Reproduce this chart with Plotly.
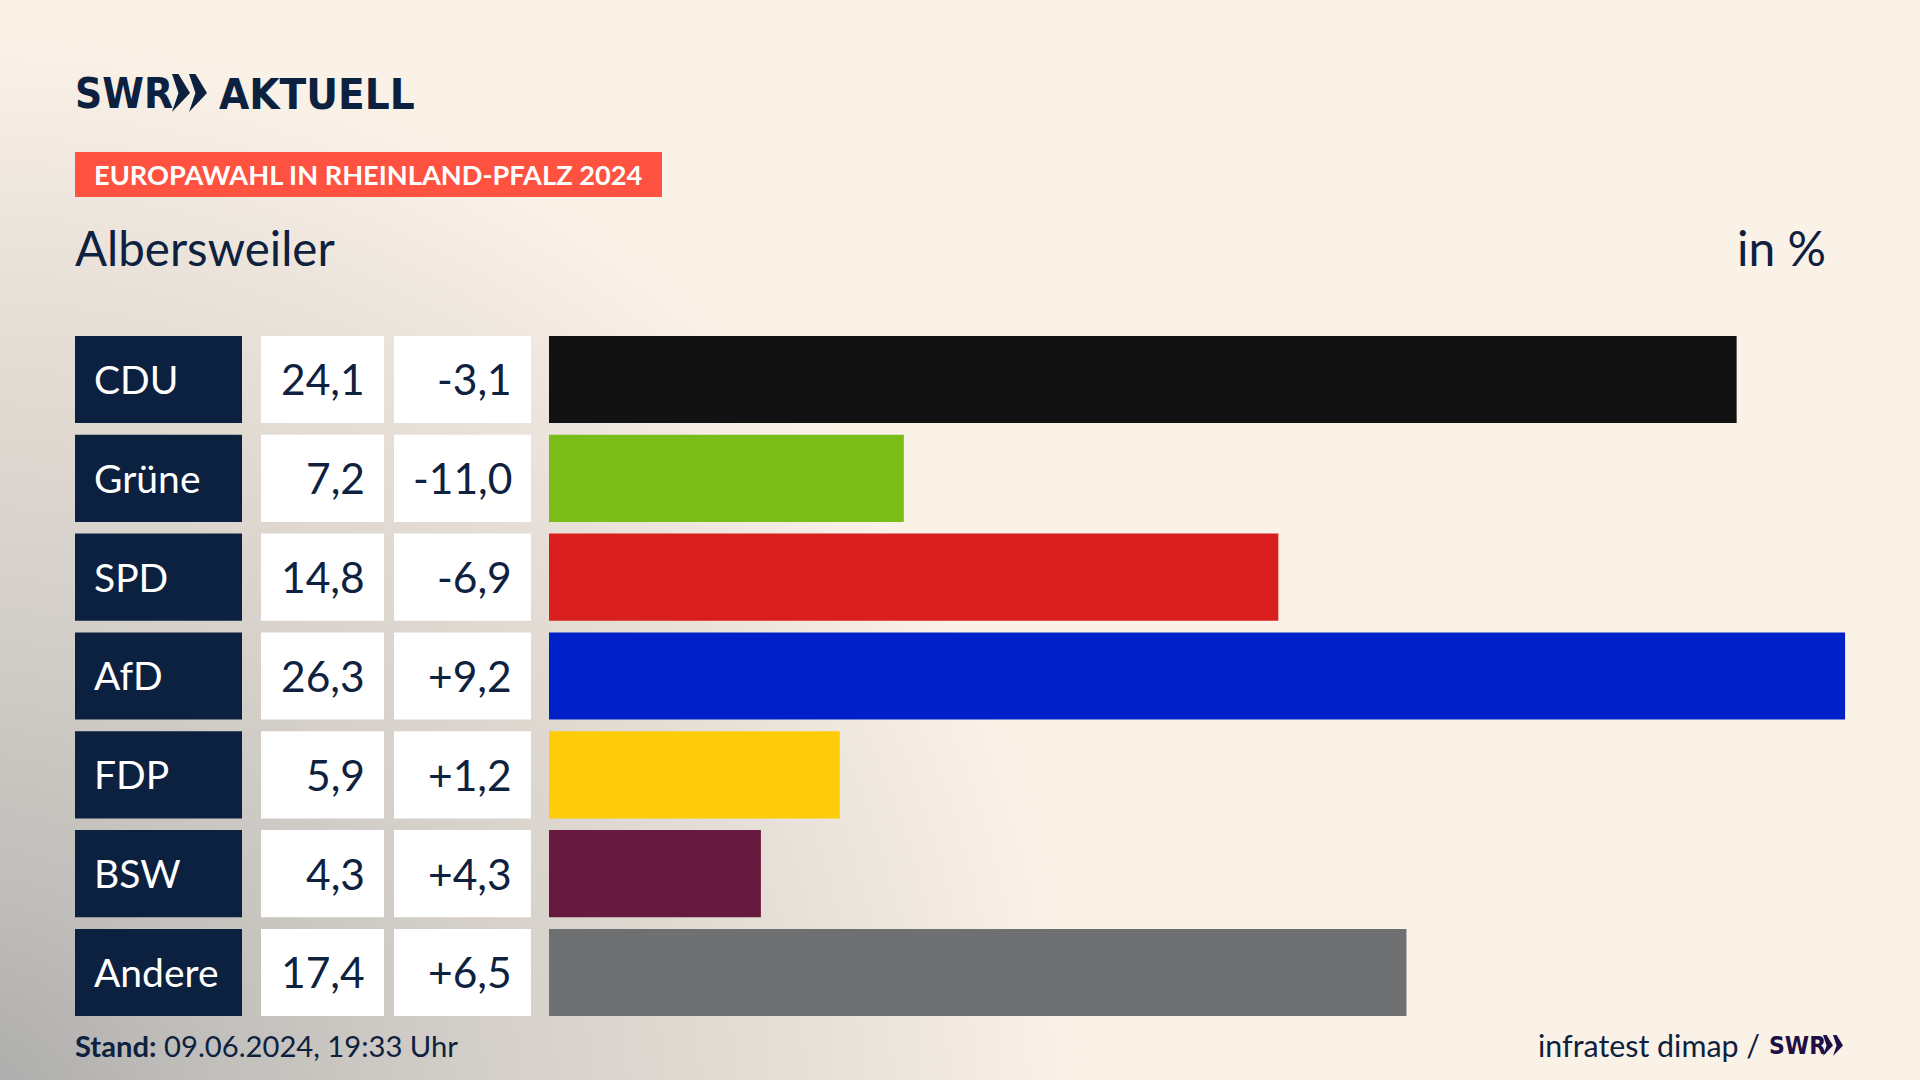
import base64
import plotly.graph_objects as go

parties = ["CDU", "Grüne", "SPD", "AfD", "FDP", "BSW", "Andere"]
shares = [24.1, 7.2, 14.8, 26.3, 5.9, 4.3, 17.4]
changes = [-3.1, -11.0, -6.9, 9.2, 1.2, 4.3, 6.5]
colors = ["#121212", "#7ABD19", "#D91F1E", "#0021C7", "#FFCC0A", "#661A3D", "#6F7072"]

W, H = 1920, 1080
NAVY = "#0C203F"
TXT = "#0E213F"
FONT = "Lato"
LOGO = "DejaVu Sans Condensed"
BAR_X0 = 549
PX_PER_UNIT = 49.28
ROW_PITCH = 98.83
ROW0 = 379.5
HALF = 43.6 / ROW_PITCH


def fx(px):
    return px / W


def fy(px):
    return 1 - px / H


svg = f'''<svg xmlns="http://www.w3.org/2000/svg" width="{W}" height="{H}" viewBox="0 0 {W} {H}">
<defs><radialGradient id="g" gradientUnits="userSpaceOnUse" cx="0" cy="0" r="1"
 gradientTransform="translate(-40 1120) scale(1270 1230)">
<stop offset="0" stop-color="#A9A9A9"/>
<stop offset="0.18" stop-color="#BFBDBA"/>
<stop offset="0.42" stop-color="#D4CFC9"/>
<stop offset="0.66" stop-color="#E6DFD7"/>
<stop offset="0.88" stop-color="#FAF1E7"/>
<stop offset="1" stop-color="#FAF1E7"/>
</radialGradient></defs>
<rect width="{W}" height="{H}" fill="url(#g)"/></svg>'''
bg_uri = "data:image/svg+xml;base64," + base64.b64encode(svg.encode()).decode()

fig = go.Figure(
    go.Bar(
        x=shares,
        y=parties,
        orientation="h",
        marker=dict(color=colors, line=dict(width=0)),
        width=2 * HALF,
        hoverinfo="skip",
    )
)

shapes = []
annotations = []


def text(x, y, s, size, color=TXT, anchor="left", family=FONT):
    annotations.append(
        dict(
            x=fx(x), y=fy(y), xref="paper", yref="paper", text=s, showarrow=False,
            xanchor=anchor, yanchor="middle", align=anchor,
            font=dict(family=family, size=size, color=color),
            borderpad=0, borderwidth=0,
        )
    )


def rect(x0, x1, y0, y1, color):
    shapes.append(dict(type="rect", xref="paper", yref="paper", x0=fx(x0), x1=fx(x1),
                       y0=fy(y1), y1=fy(y0), fillcolor=color, line=dict(width=0), layer="below"))


def chevron(x, top, bottom, w, color):
    mid = (top + bottom) / 2
    pts = [(x, top), (x + 0.36 * w, top), (x + w, mid), (x, bottom), (x + 0.36 * w, mid)]
    d = "M" + " L".join(f"{fx(a):.5f},{fy(b):.5f}" for a, b in pts) + " Z"
    shapes.append(dict(type="path", xref="paper", yref="paper", path=d, fillcolor=color, line=dict(width=0)))


for i, (party, share, change) in enumerate(zip(parties, shares, changes)):
    for x0, x1, c in ((75, 242, NAVY), (261, 384, "#FFFFFF"), (394, 531, "#FFFFFF")):
        shapes.append(dict(type="rect", xref="paper", yref="y", x0=fx(x0), x1=fx(x1),
                           y0=i - HALF, y1=i + HALF, fillcolor=c, line=dict(width=0), layer="below"))
    yc = ROW0 + ROW_PITCH * i
    text(94, yc - 0.5, party, 39, "#FFFFFF")
    text(365, yc - 0.5, f"{share:.1f}".replace(".", ","), 42.5, anchor="right")
    text(512, yc - 0.5, f"{change:+.1f}".replace(".", ","), 42.5, anchor="right")

# header
text(75, 94, "<b>SWR</b>", 42, NAVY, family=LOGO)
chevron(172, 74, 112, 18, NAVY)
chevron(189, 74, 112, 18, NAVY)
text(219, 94, "<b>AKTUELL</b>", 43.5, NAVY, family=LOGO)
rect(75, 662, 152, 197, "#FF5240")
text(94, 175, "<b>EUROPAWAHL IN RHEINLAND-PFALZ 2024</b>", 27.2, "#FFFFFF")
text(75, 247, "Albersweiler", 47.5)
text(1826, 247.5, "in %", 48, anchor="right")

# footer
text(75, 1045.5, "<b>Stand:</b> 09.06.2024, 19:33 Uhr", 29.2)
text(1760, 1045, "infratest dimap /", 30.4, anchor="right")
text(1769, 1045, "<b>SWR</b>", 24.5, "#1F0F45", family=LOGO)
chevron(1823, 1035, 1056, 10, "#1F0F45")
chevron(1833, 1035, 1056, 10, "#1F0F45")

fig.update_layout(
    width=W, height=H,
    margin=dict(l=0, r=0, t=0, b=0),
    paper_bgcolor="#FAF1E7", plot_bgcolor="rgba(0,0,0,0)",
    showlegend=False,
    shapes=shapes, annotations=annotations,
    images=[dict(source=bg_uri, xref="paper", yref="paper", x=0, y=1, sizex=1, sizey=1,
                 sizing="stretch", xanchor="left", yanchor="top", layer="below")],
    xaxis=dict(range=[-BAR_X0 / PX_PER_UNIT, (W - BAR_X0) / PX_PER_UNIT], visible=False, fixedrange=True),
    yaxis=dict(type="category", categoryorder="array", categoryarray=parties,
               range=[(H - ROW0) / ROW_PITCH, -ROW0 / ROW_PITCH], visible=False, fixedrange=True),
)

fig.write_html(
    "out.html",
    config={"displayModeBar": False},
    post_script="document.body.style.margin='0';document.documentElement.style.overflow='hidden';",
)
